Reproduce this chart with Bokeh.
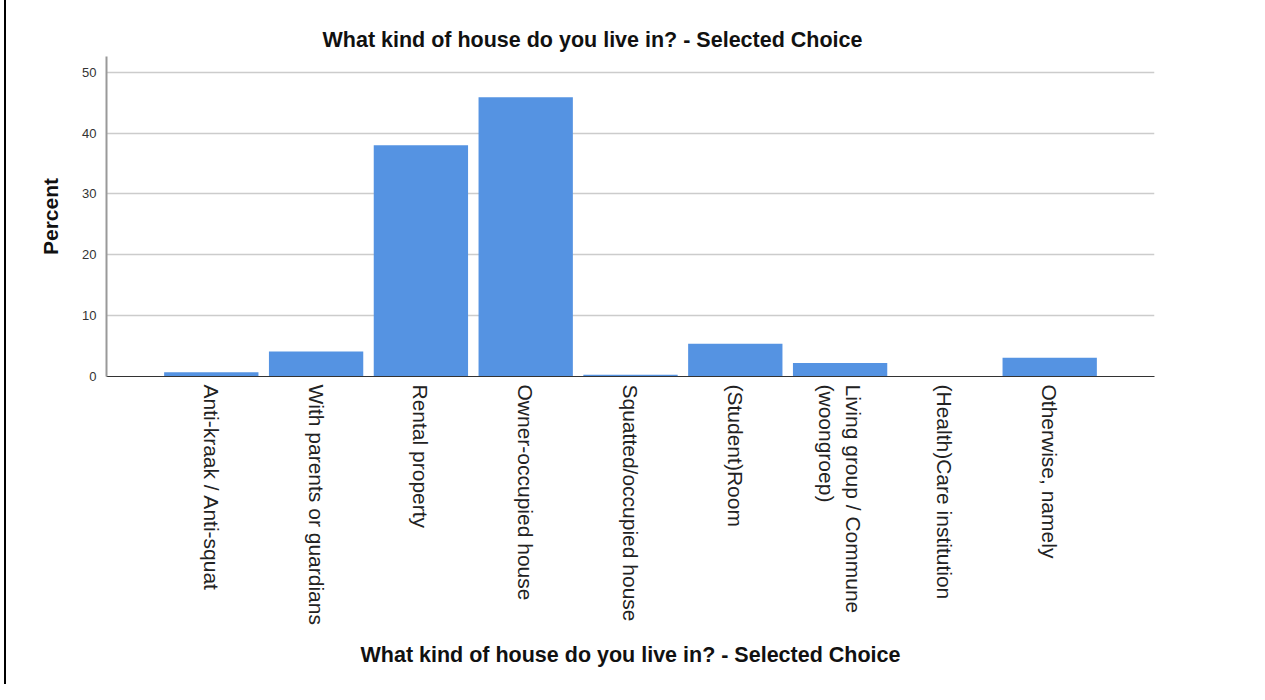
from bokeh.plotting import figure
from bokeh.models import FactorRange, Range1d, FixedTicker, Title, ColumnDataSource
from bokeh.embed import file_html
from bokeh.resources import INLINE
import math

categories = [
    "Anti-kraak / Anti-squat",
    "With parents or guardians",
    "Rental property",
    "Owner-occupied house",
    "Squatted/occupied house",
    "(Student)Room",
    "Living group / Commune\n(woongroep)",
    "(Health)Care institution",
    "Otherwise, namely",
]
percent = [0.7, 4.1, 38.0, 45.9, 0.3, 5.4, 2.2, 0.1, 3.1]
y_ticks = [0, 10, 20, 30, 40, 50]
title_text = "What kind of house do you live in? - Selected Choice"

FONT = "Liberation Sans"

src = ColumnDataSource(dict(cat=categories, pct=percent))

p = figure(
    width=1249, height=684,
    x_range=FactorRange(factors=categories, range_padding=0.5, range_padding_units="absolute"),
    y_range=Range1d(0, 52.6),
    output_backend="svg", toolbar_location=None,
    min_border_left=100, min_border_right=101, min_border_top=56, min_border_bottom=308,
)
p.styles = {"margin-left": "4px", "border-left": "2px solid black"}
p.outline_line_color = None

p.vbar(x="cat", top="pct", width=0.9, source=src, fill_color="#5593E2", line_color=None)

t = Title(text=title_text, align="left", offset=216, text_font=FONT,
          text_font_size="21.5px", text_font_style="bold", text_color="#111111")
p.add_layout(t, "above")

# y axis
p.yaxis.ticker = FixedTicker(ticks=y_ticks)
p.yaxis.axis_label = "Percent"
p.yaxis.axis_label_text_font = FONT
p.yaxis.axis_label_text_font_size = "21px"
p.yaxis.axis_label_text_font_style = "bold"
p.yaxis.axis_label_text_color = "#111111"
p.yaxis.axis_label_standoff = 17
p.yaxis.major_label_text_font = FONT
p.yaxis.major_label_text_font_size = "13px"
p.yaxis.major_label_text_color = "#333333"
p.yaxis.major_tick_line_color = None
p.yaxis.minor_tick_line_color = None
p.yaxis.major_label_standoff = 4
p.yaxis.axis_line_color = "#999999"
p.yaxis.axis_line_width = 2

# x axis
p.xaxis.axis_label = title_text
p.xaxis.axis_label_text_font = FONT
p.xaxis.axis_label_text_font_size = "21.5px"
p.xaxis.axis_label_text_font_style = "bold"
p.xaxis.axis_label_text_color = "#111111"
p.xaxis.axis_label_standoff = 15
p.xaxis.major_label_orientation = -math.pi / 2
p.xaxis.major_label_text_font = FONT
p.xaxis.major_label_text_font_size = "21px"
p.xaxis.major_label_text_color = "#222222"
p.xaxis.major_label_standoff = 2
p.xaxis.major_tick_line_color = None
p.xaxis.axis_line_color = "#333333"
p.xaxis.axis_line_width = 1

p.xgrid.grid_line_color = None
p.ygrid.grid_line_color = "#cccccc"
p.ygrid.grid_line_width = 1.5

open("out.html", "w").write(file_html(p, INLINE))
